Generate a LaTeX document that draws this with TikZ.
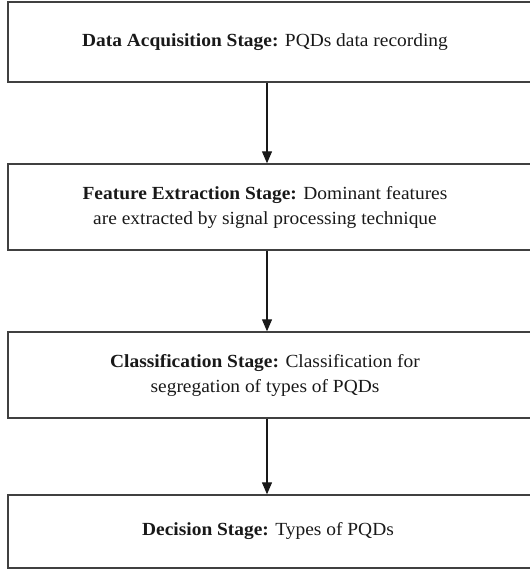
\documentclass[tikz,border=0pt]{standalone}
\usepackage{fontspec}
\setmainfont[FakeStretch=1.05]{Liberation Serif}
\usetikzlibrary{arrows.meta}
\begin{document}
\begin{tikzpicture}[x=1pt,y=-1pt,
  stagebox/.style={draw=black!75, line width=1.4pt, minimum width=530pt,
    inner sep=0pt},
  stagetext/.style={align=center, inner sep=0pt,
    font=\fontsize{18.5}{25}\selectfont, text=black!90},
  flow/.style={line width=1.2pt, black!90,
    -{Triangle[width=10pt,length=12pt]}}]
\useasboundingbox (0,0) rectangle (529,569);
% stage frames (right edges run past the page border)
\node[stagebox, minimum height=80pt] (acq) at (273,42) {};
\node[stagebox, minimum height=86pt] (feat) at (273,207) {};
\node[stagebox, minimum height=86pt] (cls) at (273,375) {};
\node[stagebox, minimum height=73pt] (dec) at (273,531.5) {};
% stage captions
\node[stagetext] (acqt) at (265,42)
  {\textbf{Data Acquisition Stage:} PQDs data recording};
\node[stagetext] (featt) at (265,207)
  {\textbf{Feature Extraction Stage:} Dominant features\\are extracted by signal processing technique};
\node[stagetext] (clst) at (265,375)
  {\textbf{Classification Stage:} Classification for\\segregation of types of PQDs};
\node[stagetext] (dect) at (268,531.5)
  {\textbf{Decision Stage:} Types of PQDs};
% flow arrows
\draw[flow] (acq.south -| 267,0) -- (feat.north -| 267,0);
\draw[flow] (feat.south -| 267,0) -- (cls.north -| 267,0);
\draw[flow] (cls.south -| 267,0) -- (dec.north -| 267,0);
\end{tikzpicture}
\end{document}
